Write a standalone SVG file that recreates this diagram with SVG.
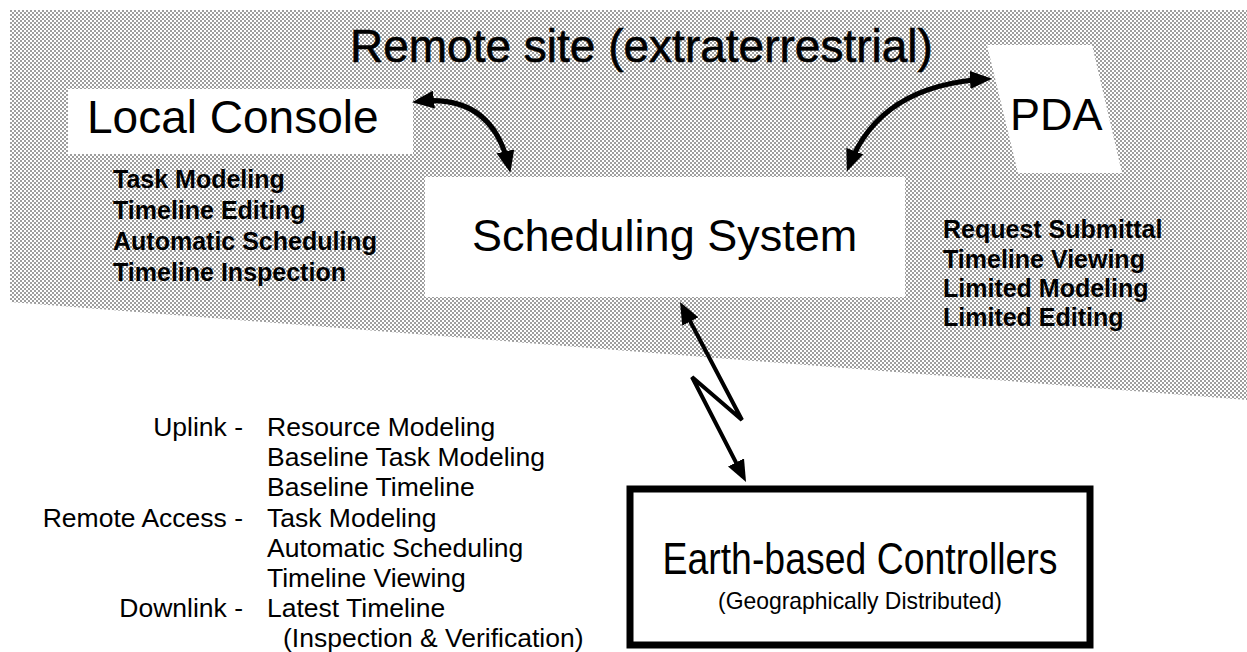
<svg xmlns="http://www.w3.org/2000/svg" width="1247" height="652" viewBox="0 0 1247 652">
<defs>
<pattern id="dots" patternUnits="userSpaceOnUse" width="4" height="4">
<rect width="4" height="4" fill="#ffffff"/>
<circle cx="1" cy="1" r="0.8" fill="#222"/>
<circle cx="3" cy="3" r="0.8" fill="#222"/>
</pattern>
<marker id="ah" viewBox="0 0 22 18" markerWidth="22" markerHeight="18" refX="16" refY="9" orient="auto-start-reverse" markerUnits="userSpaceOnUse">
<path d="M0,0 L22,9 L0,18 z" fill="#000"/>
</marker>
</defs>
<style>
text{font-family:"Liberation Sans",Arial,sans-serif;fill:#000}
.big{font-size:46px}
.title{stroke:#000;stroke-width:0.6}
.sub{font-size:25px;font-weight:bold}
.lst{font-size:26.5px}
.box{fill:#fff;stroke:none}
.conn{fill:none;stroke:#000;stroke-width:5}
</style>
<rect width="1247" height="652" fill="#fff"/>
<g id="remote-site">
<polygon points="10,10 1247,10 1247,400 10,302" fill="url(#dots)"/>
<text class="big title" x="350" y="62">Remote site (extraterrestrial)</text>
</g>
<g id="local-console">
<rect class="box" x="68" y="89" width="345" height="65"/>
<text class="big" x="87" y="133">Local Console</text>
<text class="sub" x="113" y="188">Task Modeling</text>
<text class="sub" x="113" y="219">Timeline Editing</text>
<text class="sub" x="113" y="250">Automatic Scheduling</text>
<text class="sub" x="113" y="281">Timeline Inspection</text>
</g>
<g id="scheduling-system">
<rect class="box" x="425" y="177" width="480" height="120"/>
<text class="big" x="472" y="251" style="font-size:45px">Scheduling System</text>
</g>
<g id="pda">
<polygon points="987,45 1092,45 1122,173 1018,173" fill="#fff"/>
<text class="big" x="1010" y="130" style="font-size:45px">PDA</text>
<text class="sub" x="943" y="238">Request Submittal</text>
<text class="sub" x="943" y="268">Timeline Viewing</text>
<text class="sub" x="943" y="297">Limited Modeling</text>
<text class="sub" x="943" y="326">Limited Editing</text>
</g>
<g id="earth-controllers">
<rect x="630" y="489" width="460" height="156" fill="#fff" stroke="#000" stroke-width="7"/>
<text x="860" y="574" text-anchor="middle" style="font-size:44px" textLength="395" lengthAdjust="spacingAndGlyphs">Earth-based Controllers</text>
<text x="860" y="609" text-anchor="middle" style="font-size:24px" textLength="284" lengthAdjust="spacingAndGlyphs">(Geographically Distributed)</text>
</g>
<g id="link-notes">
<text class="lst" x="243" y="436" text-anchor="end">Uplink -</text>
<text class="lst" x="267" y="436">Resource Modeling</text>
<text class="lst" x="267" y="466">Baseline Task Modeling</text>
<text class="lst" x="267" y="496">Baseline Timeline</text>
<text class="lst" x="243" y="527" text-anchor="end">Remote Access -</text>
<text class="lst" x="267" y="527">Task Modeling</text>
<text class="lst" x="267" y="557">Automatic Scheduling</text>
<text class="lst" x="267" y="587">Timeline Viewing</text>
<text class="lst" x="243" y="617" text-anchor="end">Downlink -</text>
<text class="lst" x="267" y="617">Latest Timeline</text>
<text class="lst" x="283" y="647">(Inspection &amp; Verification)</text>
</g>
<g id="connectors">
<path class="conn" d="M418,101.5 Q492,93 509,167" marker-start="url(#ah)" marker-end="url(#ah)"/>
<path class="conn" d="M986,79 Q880,85 849,166" marker-start="url(#ah)" marker-end="url(#ah)"/>
<polyline class="conn" style="stroke-width:4" points="682.8,307.3 742,420 692,377 743.3,476.7" marker-start="url(#ah)" marker-end="url(#ah)"/>
</g>
</svg>
